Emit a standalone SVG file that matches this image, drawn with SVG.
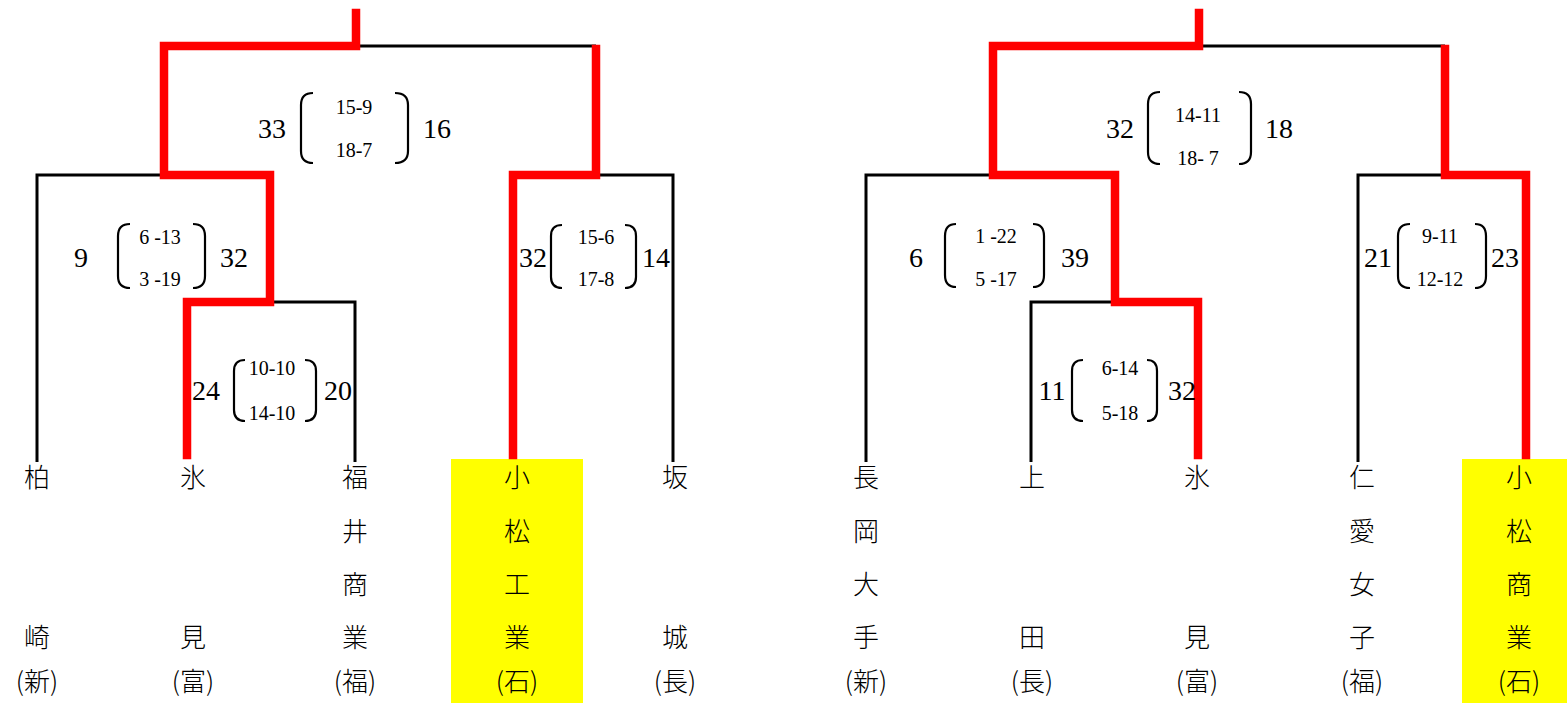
<svg xmlns="http://www.w3.org/2000/svg" width="1567" height="703" viewBox="0 0 1567 703">
<style>
.red{fill:none;stroke:#ff0000;stroke-width:8.5;stroke-linejoin:miter;stroke-linecap:square}
.blk{fill:none;stroke:#000;stroke-width:3}
.br{fill:none;stroke:#000;stroke-width:2.2}
.sc{font-family:"Liberation Serif","Noto Sans CJK JP",serif;font-size:28px;fill:#000;text-anchor:middle;dominant-baseline:central}
.ss{font-family:"Liberation Serif","Noto Sans CJK JP",serif;font-size:20px;fill:#000;text-anchor:middle;dominant-baseline:central}
.tm{font-family:"Noto Sans CJK JP","Noto Sans CJK SC",sans-serif;font-size:26px;font-weight:300;fill:#000;text-anchor:middle;dominant-baseline:central}
</style>
<rect width="1567" height="703" fill="#fff"/>
<rect x="451" y="459" width="132" height="244" fill="#ffff00"/>
<rect x="1462" y="459" width="105" height="244" fill="#ffff00"/>
<g id="connectors">
<path class="blk" d="M356,46 H596"/>
<path class="blk" d="M37,462 V175 H164"/>
<path class="blk" d="M270,302 H355 V462"/>
<path class="blk" d="M596,175 H673 V462"/>
<path class="red" d="M356,13 V46 H164 V175 H270 V302 H187 V455"/>
<path class="red" d="M596,49 V175 H513 V455"/>
<path class="blk" d="M1199,46 H1445"/>
<path class="blk" d="M866,462 V175 H993"/>
<path class="blk" d="M1115,302 H1031 V462"/>
<path class="blk" d="M1445,175 H1358 V462"/>
<path class="red" d="M1199,13 V46 H993 V175 H1115 V302 H1198 V455"/>
<path class="red" d="M1445,49 V175 H1526 V455"/>
</g>
<g id="score-top-left">
<text class="sc" x="272" y="128">33</text>
<path class="br" d="M313,93 Q301,93 301,105 V151 Q301,163 313,163"/>
<text class="ss" x="354" y="107">15-9</text>
<text class="ss" x="354" y="150">18-7</text>
<path class="br" d="M395,93 Q408,93 408,105 V151 Q408,163 395,163"/>
<text class="sc" x="437" y="128">16</text>
</g>
<g id="score-l1">
<text class="sc" x="81" y="257">9</text>
<path class="br" d="M130,224 Q118,224 118,236 V276 Q118,288 130,288"/>
<text class="ss" x="160" y="237">6 -13</text>
<text class="ss" x="160" y="279">3 -19</text>
<path class="br" d="M193,224 Q205,224 205,236 V276 Q205,288 193,288"/>
<text class="sc" x="234" y="257">32</text>
</g>
<g id="score-l2">
<text class="sc" x="206" y="390">24</text>
<path class="br" d="M245,360 Q234,360 234,371 V410 Q234,421 245,421"/>
<text class="ss" x="272" y="368">10-10</text>
<text class="ss" x="272" y="413">14-10</text>
<path class="br" d="M305,360 Q316,360 316,371 V410 Q316,421 305,421"/>
<text class="sc" x="338" y="390">20</text>
</g>
<g id="score-l3">
<text class="sc" x="533" y="257">32</text>
<path class="br" d="M562,225 Q551,225 551,236 V277 Q551,288 562,288"/>
<text class="ss" x="596" y="237">15-6</text>
<text class="ss" x="596" y="279">17-8</text>
<path class="br" d="M625,225 Q636,225 636,236 V277 Q636,288 625,288"/>
<text class="sc" x="656" y="257">14</text>
</g>
<g id="score-top-right">
<text class="sc" x="1120" y="128">32</text>
<path class="br" d="M1160,92 Q1148,92 1148,104 V152 Q1148,164 1160,164"/>
<text class="ss" x="1198" y="115">14-11</text>
<text class="ss" x="1198" y="158">18- 7</text>
<path class="br" d="M1239,92 Q1251,92 1251,104 V152 Q1251,164 1239,164"/>
<text class="sc" x="1279" y="128">18</text>
</g>
<g id="score-r1">
<text class="sc" x="916" y="257">6</text>
<path class="br" d="M956,224 Q945,224 945,236 V275 Q945,287 956,287"/>
<text class="ss" x="996" y="236">1 -22</text>
<text class="ss" x="996" y="279">5 -17</text>
<path class="br" d="M1033,224 Q1044,224 1044,236 V275 Q1044,287 1033,287"/>
<text class="sc" x="1075" y="257">39</text>
</g>
<g id="score-r2">
<text class="sc" x="1052" y="390">11</text>
<path class="br" d="M1083,360 Q1072,360 1072,371 V410 Q1072,421 1083,421"/>
<text class="ss" x="1120" y="368">6-14</text>
<text class="ss" x="1120" y="413">5-18</text>
<path class="br" d="M1147,360 Q1157,360 1157,371 V410 Q1157,421 1147,421"/>
<text class="sc" x="1182" y="390">32</text>
</g>
<g id="score-r3">
<text class="sc" x="1378" y="257">21</text>
<path class="br" d="M1410,224 Q1398,224 1398,236 V276 Q1398,288 1410,288"/>
<text class="ss" x="1440" y="236">9-11</text>
<text class="ss" x="1440" y="279">12-12</text>
<path class="br" d="M1475,224 Q1486,224 1486,236 V276 Q1486,288 1475,288"/>
<text class="sc" x="1505" y="257">23</text>
</g>
<g id="team-kashiwazaki">
<text class="tm" x="37" y="475">柏</text>
<text class="tm" x="37" y="635">崎</text>
<text class="tm" x="37" y="679">(新)</text>
</g>
<g id="team-himi-1">
<text class="tm" x="193" y="475">氷</text>
<text class="tm" x="193" y="635">見</text>
<text class="tm" x="193" y="679">(富)</text>
</g>
<g id="team-fukuishogyo">
<text class="tm" x="355" y="475">福</text>
<text class="tm" x="355" y="529">井</text>
<text class="tm" x="355" y="582">商</text>
<text class="tm" x="355" y="635">業</text>
<text class="tm" x="355" y="679">(福)</text>
</g>
<g id="team-komatsukogyo">
<text class="tm" x="517" y="475">小</text>
<text class="tm" x="517" y="529">松</text>
<text class="tm" x="517" y="582">工</text>
<text class="tm" x="517" y="635">業</text>
<text class="tm" x="517" y="679">(石)</text>
</g>
<g id="team-sakaki">
<text class="tm" x="675" y="475">坂</text>
<text class="tm" x="675" y="635">城</text>
<text class="tm" x="675" y="679">(長)</text>
</g>
<g id="team-nagaokaotete">
<text class="tm" x="866" y="475">長</text>
<text class="tm" x="866" y="529">岡</text>
<text class="tm" x="866" y="582">大</text>
<text class="tm" x="866" y="635">手</text>
<text class="tm" x="866" y="679">(新)</text>
</g>
<g id="team-ueda">
<text class="tm" x="1032" y="475">上</text>
<text class="tm" x="1032" y="635">田</text>
<text class="tm" x="1032" y="679">(長)</text>
</g>
<g id="team-himi-2">
<text class="tm" x="1197" y="475">氷</text>
<text class="tm" x="1197" y="635">見</text>
<text class="tm" x="1197" y="679">(富)</text>
</g>
<g id="team-jinaijoshi">
<text class="tm" x="1362" y="475">仁</text>
<text class="tm" x="1362" y="529">愛</text>
<text class="tm" x="1362" y="582">女</text>
<text class="tm" x="1362" y="635">子</text>
<text class="tm" x="1362" y="679">(福)</text>
</g>
<g id="team-komatsushogyo">
<text class="tm" x="1519" y="475">小</text>
<text class="tm" x="1519" y="529">松</text>
<text class="tm" x="1519" y="582">商</text>
<text class="tm" x="1519" y="635">業</text>
<text class="tm" x="1519" y="679">(石)</text>
</g>
</svg>
